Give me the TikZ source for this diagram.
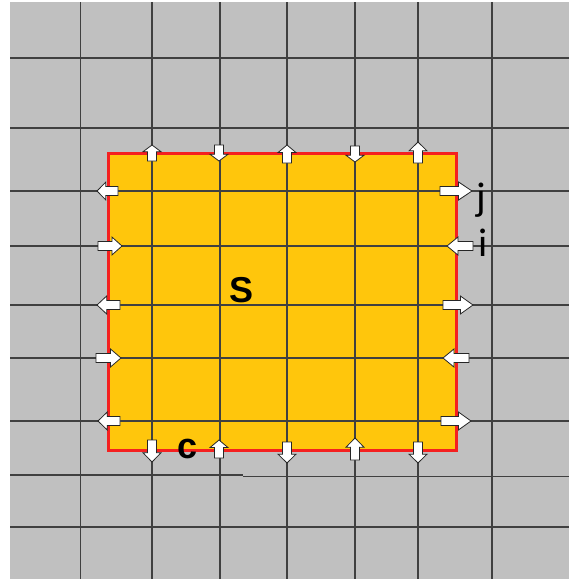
\documentclass[tikz,border=0pt]{standalone}
\usepackage{fontspec}
\setmainfont{Liberation Sans}
\newfontfamily\calfont{Carlito}
\definecolor{bggray}{HTML}{C0C0C0}
\definecolor{sfill}{HTML}{FFC60C}
\definecolor{sred}{HTML}{F42020}
\tikzset{
  gridline/.style={draw=black!75,line width=1.3pt},
  barrow/.style={fill=white,draw=black!85,line width=0.8pt,line join=miter},
  lbl/.style={inner sep=0pt,text=black},
}
\newcommand\barr[4]{%
  \begin{scope}[shift={(#1,#2)},rotate=#3]
    \draw[barrow] (0,-4.5) -- ({0.58*#4},-4.5) -- ({0.58*#4},-9) -- (#4,0) -- ({0.58*#4},9) -- ({0.58*#4},4.5) -- (0,4.5) -- cycle;
  \end{scope}}
\begin{document}
\begin{tikzpicture}[x=1pt,y=-1pt]
\useasboundingbox (0,0) rectangle (569,579);
\fill[white] (0,0) rectangle (569,579);
\fill[bggray] (10,2) rectangle (569,579);
\fill[sfill] (108,153) rectangle (456,450);
% grid
\foreach \gx in {80.5,152,220,287,355,418,492}
  \draw[gridline] (\gx,2) -- (\gx,579);
\foreach \gy in {58,128,191,246,305,358,421,527}
  \draw[gridline] (10,\gy) -- (569,\gy);
\draw[gridline] (10,475) -- (243,475);
\draw[gridline] (243,476.5) -- (569,476.5);
% region border
\draw[sred,line width=3pt] (108,153) rectangle (456,450);
% top edge arrows
\barr{152}{161}{90}{16}
\barr{219}{145}{-90}{16}
\barr{287}{163}{90}{18}
\barr{355}{146}{-90}{16}
\barr{418}{163}{90}{21}
% right edge arrows
\barr{440}{191}{0}{32}
\barr{473}{246}{180}{26}
\barr{443}{305}{0}{30}
\barr{469}{358}{180}{26}
\barr{441}{421}{0}{30}
% left edge arrows
\barr{118}{191}{180}{21}
\barr{98}{246}{0}{24}
\barr{120}{305}{180}{23}
\barr{96}{358}{0}{25}
\barr{120}{421}{180}{22}
% bottom edge arrows
\barr{152}{440}{-90}{22}
\barr{219}{458}{90}{18}
\barr{287}{442}{-90}{21}
\barr{355}{460}{90}{22}
\barr{418}{442}{-90}{21}
% labels
\node[lbl] (S) at (242,290) {\fontsize{36}{40}\selectfont\bfseries S};
\node[lbl] (c) at (188,449) {\fontsize{36}{40}\selectfont\bfseries c};
\node[lbl,anchor=base] (j) at (481,210) {\calfont\fontsize{40}{44}\selectfont j};
\node[lbl,anchor=base] (i) at (483,256) {\calfont\fontsize{40}{44}\selectfont i};
\end{tikzpicture}
\end{document}
